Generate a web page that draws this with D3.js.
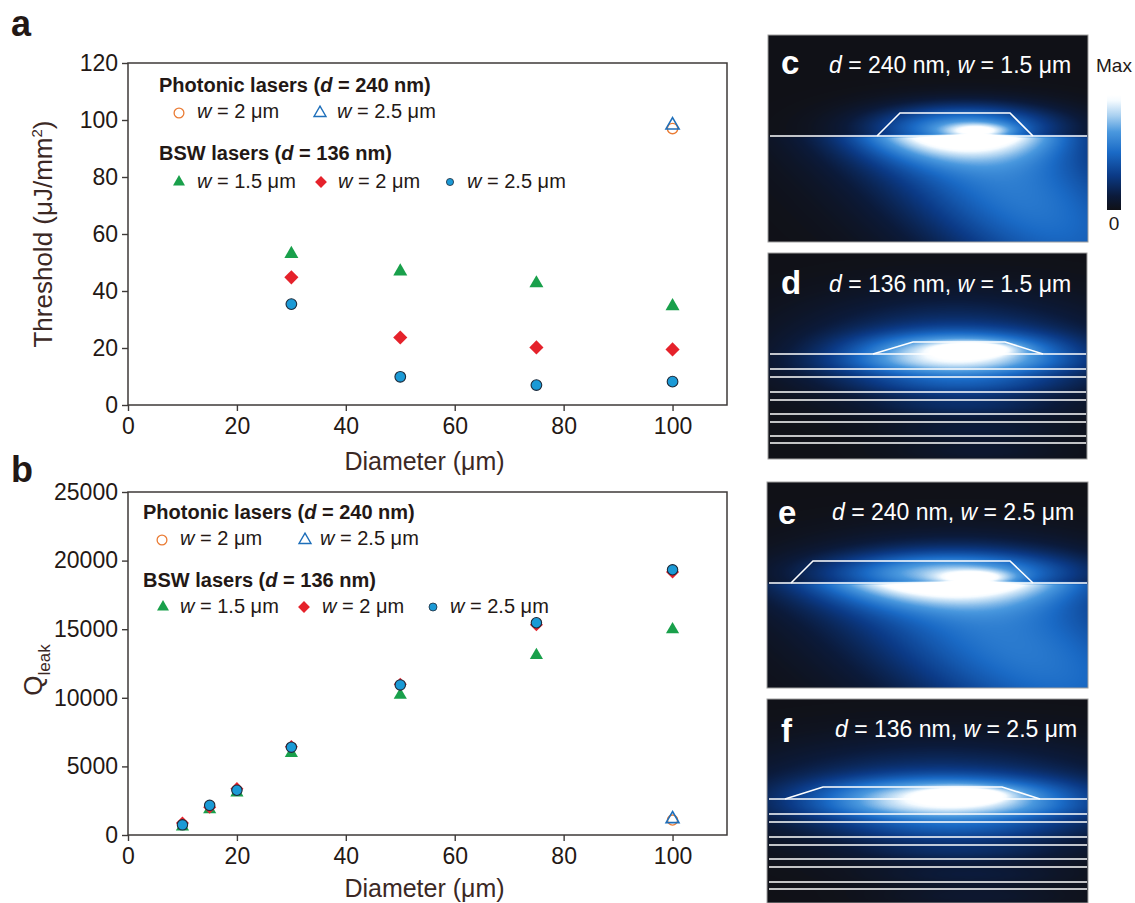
<!DOCTYPE html>
<html>
<head>
<meta charset="utf-8">
<script src="https://cdn.jsdelivr.net/npm/d3@7"></script>
<style>
  body { margin: 0; background: #fff; }
  svg { display: block; }
</style>
</head>
<body>
<div id="chart"></div>
<script>
// ---------- data: panel a (lasing threshold, uJ/mm^2) ----------
const diamA = [30, 50, 75, 100];
const thrBsw15 = [53.0, 46.9, 42.7, 34.7];
const thrBsw20 = [44.8, 23.7, 20.2, 19.5];
const thrBsw25 = [35.4, 9.9, 7.0, 8.2];
const diamPhot = [100];
const thrPhot20 = [97.0];
const thrPhot25 = [98.2];

// ---------- data: panel b (Q_leak) ----------
const diamB = [10, 15, 20, 30, 50, 75, 100];
const qBsw15 = [610, 1860, 3090, 5960, 10200, 13100, 14980];
const qBsw20 = [880, 2030, 3380, 6440, 10980, 15320, 19170];
const qBsw25 = [740, 2160, 3260, 6400, 10940, 15470, 19330];
const qPhot20 = [1090];
const qPhot25 = [1170];

// ---------- tick labels ----------
const xTicks = [0, 20, 40, 60, 80, 100];
const yTicksA = [0, 20, 40, 60, 80, 100, 120];
const yTicksB = [0, 5000, 10000, 15000, 20000, 25000];

const W = 1135, H = 903;
const FONT = '"Liberation Sans", Arial, Helvetica, sans-serif';
const INK = '#231815', AXIS = '#3e3a39', TITLE = '#3b2824';
const C_GREEN = '#19a04b', C_RED = '#e5222b', C_BLUE = '#1b9ad6', C_ORANGE = '#ea7c35', C_OPENTRI = '#1e6fba';

const svg = d3.select('#chart').append('svg')
  .attr('width', W).attr('height', H)
  .style('font-family', FONT);
svg.append('rect').attr('width', W).attr('height', H).attr('fill', '#fff');

// ---------- helpers ----------
function addRich(sel, parts) {
  // parts: [text, italic?] pairs
  parts.forEach(p => {
    sel.append('tspan').text(p[0]).style('font-style', p[1] ? 'italic' : 'normal');
  });
  return sel;
}

function symbolPath(type, size) {
  return d3.symbol().type(type).size(size)();
}

function drawPanel(cfg) {
  const x = d3.scaleLinear().domain([0, 110]).range([cfg.x0, cfg.x1]);
  const y = d3.scaleLinear().domain([0, cfg.yMax]).range([cfg.y1, cfg.y0]);
  const g = svg.append('g');

  g.append('rect')
    .attr('x', cfg.x0).attr('y', cfg.y0)
    .attr('width', cfg.x1 - cfg.x0).attr('height', cfg.y1 - cfg.y0)
    .attr('fill', 'none').attr('stroke', AXIS).attr('stroke-width', 1.5);

  const ya = g.append('g').attr('transform', `translate(${cfg.x0},0)`)
    .call(d3.axisLeft(y).tickValues(cfg.yTicks).tickFormat(d3.format('d')).tickSize(6).tickPadding(4));
  const xa = g.append('g').attr('transform', `translate(0,${cfg.y1})`)
    .call(d3.axisBottom(x).tickValues(xTicks).tickFormat(d3.format('d')).tickSize(6).tickPadding(7));
  [ya, xa].forEach(a => {
    a.select('.domain').remove();
    a.selectAll('line').attr('stroke', AXIS).attr('stroke-width', 1.4);
    a.selectAll('text').attr('fill', INK).style('font-size', '23px').style('font-family', FONT);
  });

  // x title
  g.append('text')
    .attr('x', (cfg.x0 + cfg.x1) / 2 - 3).attr('y', cfg.xTitleY)
    .attr('text-anchor', 'middle').attr('fill', TITLE)
    .style('font-size', '25px').text('Diameter (μm)');

  return { g, x, y };
}

function plotSeries(p, xs, ys, opt) {
  p.g.append('g').selectAll('path').data(xs).enter().append('path')
    .attr('d', symbolPath(opt.type, opt.size))
    .attr('transform', (d, i) => `translate(${p.x(d)},${p.y(ys[i])})` + (opt.rot ? ` rotate(${opt.rot})` : ''))
    .attr('fill', opt.fill)
    .attr('stroke', opt.stroke || 'none')
    .attr('stroke-width', opt.sw || 0);
}

function legendMark(g, cx, cy, opt) {
  g.append('path')
    .attr('d', symbolPath(opt.type, opt.size))
    .attr('transform', `translate(${cx},${cy})` + (opt.rot ? ` rotate(${opt.rot})` : ''))
    .attr('fill', opt.fill).attr('stroke', opt.stroke || 'none').attr('stroke-width', opt.sw || 0);
}

function drawLegend(g, L) {
  const head = (xx, yy, txt1, txt2) => {
    const t = g.append('text').attr('x', xx).attr('y', yy).attr('fill', INK)
      .style('font-size', '20px').style('font-weight', 'bold');
    addRich(t, [[txt1, false], ['d', true], [txt2, false]]);
  };
  const item = (xx, yy, txt) => {
    const t = g.append('text').attr('x', xx).attr('y', yy).attr('fill', INK).style('font-size', '20px');
    addRich(t, [['w', true], [txt, false]]);
  };
  head(L.hx, L.h1, 'Photonic lasers (', ' = 240 nm)');
  legendMark(g, L.m1[0], L.r1 - 5, { type: d3.symbolCircle, size: 75, fill: 'none', stroke: C_ORANGE, sw: 1.3 });
  item(L.t1[0], L.r1, ' = 2 μm');
  legendMark(g, L.m1[1], L.r1 - 5, { type: d3.symbolTriangle, size: 62, fill: 'none', stroke: C_OPENTRI, sw: 1.4 });
  item(L.t1[1], L.r1, ' = 2.5 μm');

  head(L.hx, L.h2, 'BSW lasers (', ' = 136 nm)');
  legendMark(g, L.m2[0], L.r2 - 6, { type: d3.symbolTriangle, size: 62, fill: C_GREEN });
  item(L.t2[0], L.r2, ' = 1.5 μm');
  legendMark(g, L.m2[1], L.r2 - 6, { type: d3.symbolSquare, size: 70, fill: C_RED, rot: 45 });
  item(L.t2[1], L.r2, ' = 2 μm');
  legendMark(g, L.m2[2], L.r2 - 6, { type: d3.symbolCircle, size: L.dot, fill: C_BLUE, stroke: '#1d2a3a', sw: 0.8 });
  item(L.t2[2], L.r2, ' = 2.5 μm');
}

// ---------- panel a ----------
const pa = drawPanel({ x0: 128, x1: 727, y0: 63, y1: 405, yMax: 120, yTicks: yTicksA, xTitleY: 470 });
plotSeries(pa, diamPhot, thrPhot20, { type: d3.symbolCircle, size: 85, fill: 'none', stroke: C_ORANGE, sw: 1.4 });
plotSeries(pa, diamPhot, thrPhot25, { type: d3.symbolTriangle, size: 75, fill: 'none', stroke: C_OPENTRI, sw: 1.6 });
plotSeries(pa, diamA, thrBsw15, { type: d3.symbolTriangle, size: 85, fill: C_GREEN });
plotSeries(pa, diamA, thrBsw20, { type: d3.symbolSquare, size: 100, fill: C_RED, rot: 45 });
plotSeries(pa, diamA, thrBsw25, { type: d3.symbolCircle, size: 90, fill: C_BLUE, stroke: '#1d2a3a', sw: 1.1 });
drawLegend(pa.g, { hx: 159, h1: 92, r1: 118, m1: [179, 320], t1: [197, 337], h2: 160, r2: 188, m2: [179, 321, 450], t2: [197, 338, 467], dot: 40 });

pa.g.append('text')
  .attr('transform', 'rotate(-90,52,234)')
  .attr('x', 52).attr('y', 234).attr('text-anchor', 'middle').attr('fill', TITLE)
  .style('font-size', '26px')
  .call(t => {
    t.append('tspan').text('Threshold (μJ/mm');
    t.append('tspan').text('2').attr('dy', -10).style('font-size', '15px');
    t.append('tspan').text(')').attr('dy', 10);
  });

// ---------- panel b ----------
const pb = drawPanel({ x0: 128, x1: 727, y0: 492, y1: 835, yMax: 25000, yTicks: yTicksB, xTitleY: 897 });
plotSeries(pb, diamPhot, qPhot20, { type: d3.symbolCircle, size: 80, fill: 'none', stroke: C_ORANGE, sw: 1.4 });
plotSeries(pb, diamPhot, qPhot25, { type: d3.symbolTriangle, size: 72, fill: 'none', stroke: C_OPENTRI, sw: 1.6 });
plotSeries(pb, diamB, qBsw15, { type: d3.symbolTriangle, size: 75, fill: C_GREEN });
plotSeries(pb, diamB, qBsw20, { type: d3.symbolSquare, size: 85, fill: C_RED, rot: 45 });
plotSeries(pb, diamB, qBsw25, { type: d3.symbolCircle, size: 85, fill: C_BLUE, stroke: '#1d2a3a', sw: 1.1 });
drawLegend(pb.g, { hx: 143, h1: 519, r1: 545, m1: [162, 305], t1: [180, 320], h2: 587, r2: 613, m2: [163, 304, 433], t2: [180, 322, 450], dot: 50 });

pb.g.append('text').attr('transform', 'rotate(-90,42,670)')
  .attr('x', 42).attr('y', 670).attr('text-anchor', 'middle').attr('fill', TITLE)
  .style('font-size', '26px')
  .call(t => {
    t.append('tspan').text('Q');
    t.append('tspan').text('leak').attr('dy', 8).style('font-size', '17px');
  });

// panel letters
svg.append('text').attr('x', 11).attr('y', 36).attr('fill', INK)
  .style('font-size', '36px').style('font-weight', 'bold').text('a');
svg.append('text').attr('x', 11).attr('y', 482).attr('fill', INK)
  .style('font-size', '36px').style('font-weight', 'bold').text('b');

// ---------- mode profile panels c–f ----------
const cmapStops = [0, 0.12, 0.3, 0.5, 0.68, 0.82, 0.95, 1];
const cmapColors = ['#101117', '#0b1a3a', '#0b3a86', '#1a6ac6', '#4a98de', '#a9d0f0', '#f5fbff', '#ffffff'];
const cmap = d3.scaleLinear().domain(cmapStops).range(cmapColors).clamp(true);
const lut = d3.range(256).map(i => d3.rgb(cmap(i / 255)));

const modePanels = [
  { id: 'c', dd: '240', ww: '1.5', box: [768, 35, 320, 207], sub: 136, layers: [],
    trap: [[877, 136], [900, 113], [1010, 113], [1033, 136]],
    blobs: [
      { cx: 965, cy: 128, sx: 64, sy: 16, amp: 0.68 },
      { cx: 978, cy: 131, sx: 22, sy: 5, amp: 0.45 },
      { cx: 962, cy: 146, sx: 65, sy: 18, amp: 0.2, below: true },
      { cx: 1010, cy: 185, sx: 150, sy: 60, angle: 35, amp: 0.56, below: true }
    ],
    letter: [781, 74], text: [829, 73] },
  { id: 'd', dd: '136', ww: '1.5', box: [768, 253, 319, 206], sub: 354,
    layers: [369, 377, 392, 400, 414, 422, 436, 443],
    trap: [[873, 354], [913, 342], [1005, 342], [1043, 354]],
    blobs: [
      { cx: 958, cy: 350, sx: 72, sy: 12, amp: 0.58 },
      { cx: 975, cy: 349, sx: 25, sy: 4.5, amp: 0.45 },
      { cx: 955, cy: 343, sx: 100, sy: 32, amp: 0.3 },
      { cx: 955, cy: 365, sx: 88, sy: 9, amp: 0.35 },
      { cx: 960, cy: 385, sx: 82, sy: 9, amp: 0.27 },
      { cx: 965, cy: 407, sx: 75, sy: 8, amp: 0.17 },
      { cx: 975, cy: 430, sx: 65, sy: 8, amp: 0.11 },
      { cx: 980, cy: 452, sx: 60, sy: 8, amp: 0.08 }
    ],
    letter: [781, 294], text: [829, 292] },
  { id: 'e', dd: '240', ww: '2.5', box: [767, 482, 321, 206], sub: 583, layers: [],
    trap: [[791, 583], [813, 561], [1010, 561], [1033, 583]],
    blobs: [
      { cx: 950, cy: 574, sx: 82, sy: 14, amp: 0.6 },
      { cx: 975, cy: 578, sx: 24, sy: 5, amp: 0.45 },
      { cx: 955, cy: 566, sx: 100, sy: 25, amp: 0.22 },
      { cx: 950, cy: 592, sx: 80, sy: 16, amp: 0.2, below: true },
      { cx: 1010, cy: 640, sx: 170, sy: 65, angle: 30, amp: 0.56, below: true }
    ],
    letter: [778, 524], text: [832, 520] },
  { id: 'f', dd: '136', ww: '2.5', box: [767, 699, 321, 204], sub: 799,
    layers: [814, 822, 837, 845, 859, 867, 882, 889],
    trap: [[785, 799], [823, 787], [1002, 787], [1040, 799]],
    blobs: [
      { cx: 945, cy: 795, sx: 88, sy: 12, amp: 0.58 },
      { cx: 965, cy: 795, sx: 28, sy: 5, amp: 0.45 },
      { cx: 940, cy: 789, sx: 125, sy: 32, amp: 0.3 },
      { cx: 950, cy: 810, sx: 98, sy: 9, amp: 0.35 },
      { cx: 955, cy: 830, sx: 92, sy: 9, amp: 0.27 },
      { cx: 960, cy: 852, sx: 82, sy: 8, amp: 0.17 },
      { cx: 970, cy: 875, sx: 72, sy: 8, amp: 0.11 },
      { cx: 975, cy: 897, sx: 66, sy: 8, amp: 0.08 }
    ],
    letter: [781, 742], text: [835, 737] }
];

function fieldAt(x, y, p) {
  let s = 0;
  for (const b of p.blobs) {
    const a = (b.angle || 0) * Math.PI / 180;
    const dx = x - b.cx, dy = y - b.cy;
    const u = dx * Math.cos(a) + dy * Math.sin(a);
    const v = -dx * Math.sin(a) + dy * Math.cos(a);
    let gval = b.amp * Math.exp(-0.5 * (u * u / (b.sx * b.sx) + v * v / (b.sy * b.sy)));
    if (b.below) gval *= Math.max(0, Math.min(1, (y - p.sub + 2) / 4));
    s += gval;
  }
  return Math.min(1, s);
}

function renderField(p) {
  const [bx, by, bw, bh] = p.box;
  const cv = document.createElement('canvas');
  cv.width = bw; cv.height = bh;
  const ctx = cv.getContext('2d');
  const img = ctx.createImageData(bw, bh);
  for (let j = 0; j < bh; j++) {
    for (let i = 0; i < bw; i++) {
      const c = lut[Math.round(fieldAt(bx + i + 0.5, by + j + 0.5, p) * 255)];
      const k = (j * bw + i) * 4;
      img.data[k] = c.r; img.data[k + 1] = c.g; img.data[k + 2] = c.b; img.data[k + 3] = 255;
    }
  }
  ctx.putImageData(img, 0, 0);
  return cv.toDataURL();
}

const line = d3.line();
modePanels.forEach(p => {
  const [bx, by, bw, bh] = p.box;
  const g = svg.append('g');
  g.append('image').attr('x', bx).attr('y', by).attr('width', bw).attr('height', bh)
    .attr('href', renderField(p));
  g.append('rect').attr('x', bx).attr('y', by).attr('width', bw).attr('height', bh)
    .attr('fill', 'none').attr('stroke', '#a0a0a0').attr('stroke-width', 1);

  const st = { stroke: '#fff', 'stroke-width': 1.6, fill: 'none' };
  const drawL = pts => {
    const el = g.append('path').attr('d', line(pts));
    Object.entries(st).forEach(([k, v]) => el.attr(k, v));
  };
  drawL([[bx + 2, p.sub], [bx + bw - 1, p.sub]]);
  drawL(p.trap);
  p.layers.forEach(ly => drawL([[bx + 2, ly], [bx + bw - 1, ly]]));

  g.append('text').attr('x', p.letter[0]).attr('y', p.letter[1]).attr('fill', '#fff')
    .style('font-size', '33px').style('font-weight', 'bold').text(p.id);
  const t = g.append('text').attr('x', p.text[0]).attr('y', p.text[1]).attr('fill', '#fff')
    .style('font-size', '23px');
  addRich(t, [['d', true], [` = ${p.dd} nm, `, false], ['w', true], [` = ${p.ww} μm`, false]]);
});

// colour bar
const defs = svg.append('defs');
const grad = defs.append('linearGradient').attr('id', 'cbar')
  .attr('x1', 0).attr('y1', 1).attr('x2', 0).attr('y2', 0);
cmapStops.forEach((s, i) => grad.append('stop').attr('offset', s).attr('stop-color', cmapColors[i]));
svg.append('rect').attr('x', 1107).attr('y', 95).attr('width', 14).attr('height', 115)
  .attr('fill', 'url(#cbar)');
svg.append('text').attr('x', 1114).attr('y', 72).attr('text-anchor', 'middle').attr('fill', INK)
  .style('font-size', '19px').text('Max');
svg.append('text').attr('x', 1114).attr('y', 230).attr('text-anchor', 'middle').attr('fill', INK)
  .style('font-size', '19px').text('0');
</script>
</body>
</html>
